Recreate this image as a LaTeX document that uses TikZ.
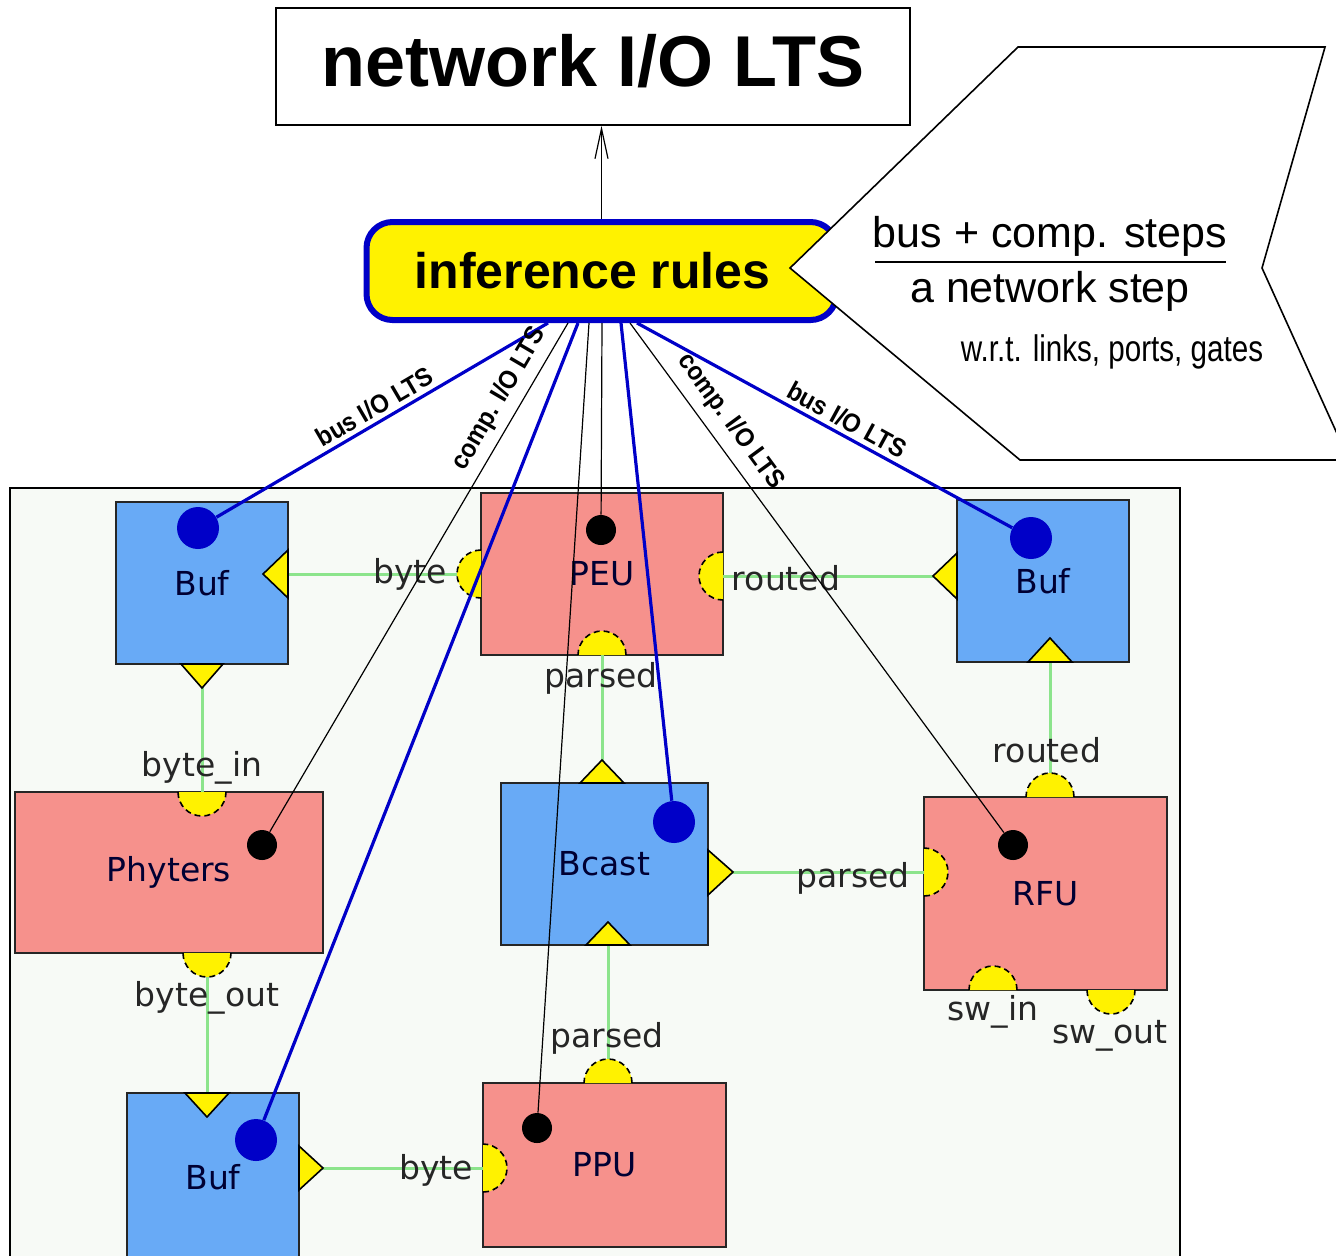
\documentclass[tikz,border=0pt]{standalone}
\usepackage{fontspec}
\setmainfont{Liberation Sans}
\newfontfamily\panelfont{DejaVu Sans}
\newfontfamily\narrowfont[FakeStretch=0.8]{Liberation Sans}
\newfontfamily\edgefont[FakeStretch=0.92]{Liberation Sans}
\usetikzlibrary{positioning, arrows.meta}

\definecolor{ruleblue}{RGB}{0,0,200}
\definecolor{comppink}{RGB}{246,145,140}
\definecolor{bufblue}{RGB}{104,170,246}
\definecolor{linkgreen}{RGB}{140,228,140}
\definecolor{panelbg}{RGB}{247,250,246}

% half-round port: centre x, centre y, start angle
\newcommand{\semiport}[3]{%
  \fill[yellow] (#1,#2) ++(#3:12pt) arc[start angle=#3, delta angle=180, radius=12pt] -- cycle;
  \draw[black, line width=0.8pt, densely dashed] (#1,#2) ++(#3:12pt) arc[start angle=#3, delta angle=180, radius=12pt];}

\begin{document}
\begin{tikzpicture}[x=0.5pt, y=-0.5pt,
    box/.style={draw=black!85, line width=1.2pt, inner sep=0pt, text=black!80!blue,
                font=\panelfont\fontsize{16.5}{16.5}\selectfont},
    comp/.style={box, fill=comppink},
    buf/.style={box, fill=bufblue},
    tri/.style={fill=yellow, draw=black, line width=0.8pt},
    link/.style={draw=linkgreen, line width=1.5pt},
    plabel/.style={inner sep=0pt, text=black!85, font=\panelfont\fontsize{16.5}{16.5}\selectfont},
    bdot/.style={circle, fill=ruleblue, inner sep=0pt, minimum size=21pt},
    kdot/.style={circle, fill=black, inner sep=0pt, minimum size=15pt},
    busline/.style={draw=ruleblue, line width=1.6pt},
    compline/.style={draw=black, line width=0.6pt},
    elabel/.style={sloped, above, inner sep=2pt, font=\edgefont\bfseries\fontsize{13}{13}\selectfont}]
    \useasboundingbox (0,0) rectangle (1336,1255);

    % the network panel
    \fill[panelbg] (10,488) rectangle (1180,1262);
    \draw[line width=1pt] (10,1262) -- (10,488) -- (1180,488) -- (1180,1262);

    \node[buf, minimum width=86pt, minimum height=81pt] (bufA) at (202,583) {Buf};
    \node[comp, minimum width=121pt, minimum height=81pt] (peu) at (602,574) {PEU};
    \node[buf, minimum width=86pt, minimum height=81pt] (bufB) at (1043,581) {Buf};
    \node[comp, minimum width=154pt, minimum height=80.5pt] (phy) at (169,872.5) {Phyters};
    \node[buf, minimum width=103.5pt, minimum height=81pt] (bcast) at (604.5,864) {Bcast};
    \node[comp, minimum width=121.5pt, minimum height=96.5pt] (rfu) at (1045.5,893.5) {RFU};
    \node[buf, minimum width=86pt, minimum height=84.5pt] (bufC) at (213,1177.5) {Buf};
    \node[comp, minimum width=121.5pt, minimum height=82pt] (ppu) at (604.5,1165) {PPU};

    % ports on the box edges
    \coordinate (bufAe) at (288,574);
    \coordinate (bufAs) at (202,664);
    \coordinate (peuw) at (481,574);
    \coordinate (peue) at (723,576);
    \coordinate (peus) at (602,655);
    \coordinate (bufBw) at (957,576);
    \coordinate (bufBs) at (1050,662);
    \coordinate (phyn) at (202,792);
    \coordinate (phys) at (207,953);
    \coordinate (bcastn) at (602,783);
    \coordinate (bcaste) at (708,872);
    \coordinate (bcasts) at (608,945);
    \coordinate (rfun) at (1050,797);
    \coordinate (rfuw) at (924,872);
    \coordinate (bufCn) at (207,1093);
    \coordinate (bufCe) at (299,1168);
    \coordinate (ppun) at (608,1083);
    \coordinate (ppuw) at (483,1168);

    \draw[link] (bufAe) -- (peuw);
    \draw[link] (peue) -- (bufBw);
    \draw[link] (bufBs) -- (rfun);
    \draw[link] (peus) -- (bcastn);
    \draw[link] (bcaste) -- (rfuw);
    \draw[link] (bcasts) -- (ppun);
    \draw[link] (bufAs) -- (phyn);
    \draw[link] (phys) -- (bufCn);
    \draw[link] (bufCe) -- (ppuw);

    \draw[tri] (288,550) -- (288,598) -- (263,574) -- cycle;
    \draw[tri] (181,664) -- (223,664) -- (202,688) -- cycle;
    \draw[tri] (957,553) -- (957,599) -- (933,576) -- cycle;
    \draw[tri] (1028,662) -- (1072,662) -- (1050,638) -- cycle;
    \draw[tri] (580,783) -- (624,783) -- (602,760) -- cycle;
    \draw[tri] (708,850) -- (708,895) -- (733,872) -- cycle;
    \draw[tri] (586,945) -- (630,945) -- (608,922) -- cycle;
    \draw[tri] (185,1093) -- (229,1093) -- (207,1117) -- cycle;
    \draw[tri] (299,1146) -- (299,1190) -- (323,1168) -- cycle;

    \semiport{481}{574}{90}
    \semiport{723}{576}{90}
    \semiport{602}{655}{0}
    \semiport{202}{792}{180}
    \semiport{207}{953}{180}
    \semiport{1050}{797}{0}
    \semiport{924}{872}{270}
    \semiport{993}{990}{0}
    \semiport{1111}{990}{180}
    \semiport{608}{1083}{0}
    \semiport{483}{1168}{270}

    \node[plabel] (lbyte1) at (410,574) {byte};
    \node[plabel] (lrouted1) at (786,578) {routed};
    \node[plabel] (lrouted2) at (1047,750) {routed};
    \node[plabel] (lparsed1) at (601,678) {parsed};
    \node[plabel] (lparsed2) at (853,878) {parsed};
    \node[plabel] (lparsed3) at (607,1038) {parsed};
    \node[plabel] (lbytein) at (202,768) {byte\_in};
    \node[plabel] (lbyteout) at (207,998) {byte\_out};
    \node[plabel] (lbyte2) at (436,1170) {byte};
    \node[plabel] (lswin) at (993,1012) {sw\_in};
    \node[plabel] (lswout) at (1110,1036) {sw\_out};

    % the rules and what they read
    \node[draw=ruleblue, fill=yellow, line width=3pt, rounded corners=13pt,
          minimum width=235pt, minimum height=49pt,
          font=\bfseries\fontsize{25}{25}\selectfont] (rules) at (601.5,271) {inference rules\hspace*{9pt}};

    \coordinate (r1) at (548,323);
    \coordinate (r2) at (568,323);
    \coordinate (r3) at (578,323);
    \coordinate (r4) at (589,323);
    \coordinate (r5) at (602,323);
    \coordinate (r6) at (621,323);
    \coordinate (r7) at (630,323);
    \coordinate (r8) at (637,323);

    \node[bdot] (dbufA) at (198,528) {};
    \node[bdot] (dbufB) at (1031,538) {};
    \node[bdot] (dbcast) at (674,822) {};
    \node[bdot] (dbufC) at (256,1140) {};
    \node[kdot] (dpeu) at (601,530) {};
    \node[kdot] (dphy) at (262,845) {};
    \node[kdot] (drfu) at (1013,845) {};
    \node[kdot] (dppu) at (537,1128) {};

    \draw[busline] (r1) -- node[elabel, pos=0.5] {bus I/O LTS} (dbufA);
    \draw[compline] (r2) -- node[elabel, pos=0.17, inner sep=4pt] {comp. I/O LTS} (dphy);
    \draw[busline] (r3) -- (dbufC);
    \draw[compline] (r4) -- (dppu);
    \draw[compline] (r5) -- (dpeu);
    \draw[busline] (r6) -- (dbcast);
    \draw[compline] (r7) -- node[elabel, pos=0.22, inner sep=5pt] {comp. I/O LTS} (drfu);
    \draw[busline] (r8) -- node[elabel, pos=0.54] {bus I/O LTS} (dbufB);

    % the callout
    \draw[fill=white, line width=0.8pt] (790,268) -- (1018,47) -- (1325,47) -- (1262,268)
        -- (1349,460) -- (1020,460) -- cycle;
    \node[anchor=base, inner sep=0pt, font=\fontsize{21.5}{21.5}\selectfont] (prem) at (1050,247) {bus + comp. steps};
    \draw[line width=0.8pt] (875,262) -- (1226,262);
    \node[anchor=base, inner sep=0pt, font=\fontsize{21.5}{21.5}\selectfont] (concl) at (1050,302) {a network step};
    \node[anchor=base, inner sep=0pt, font=\narrowfont\fontsize{18.5}{18.5}\selectfont] (wrt) at (1112,361) {w.r.t. links, ports, gates};

    \node[draw, line width=0.8pt, minimum width=317pt, minimum height=58.5pt, text depth=6pt,
          font=\bfseries\fontsize{36}{36}\selectfont] (title) at (593,66.5) {network I/O LTS};
    \draw[-{Straight Barb[length=15pt, width=6.5pt]}, line width=0.6pt] (rules.north) -- (rules.north |- title.south);
\end{tikzpicture}
\end{document}
